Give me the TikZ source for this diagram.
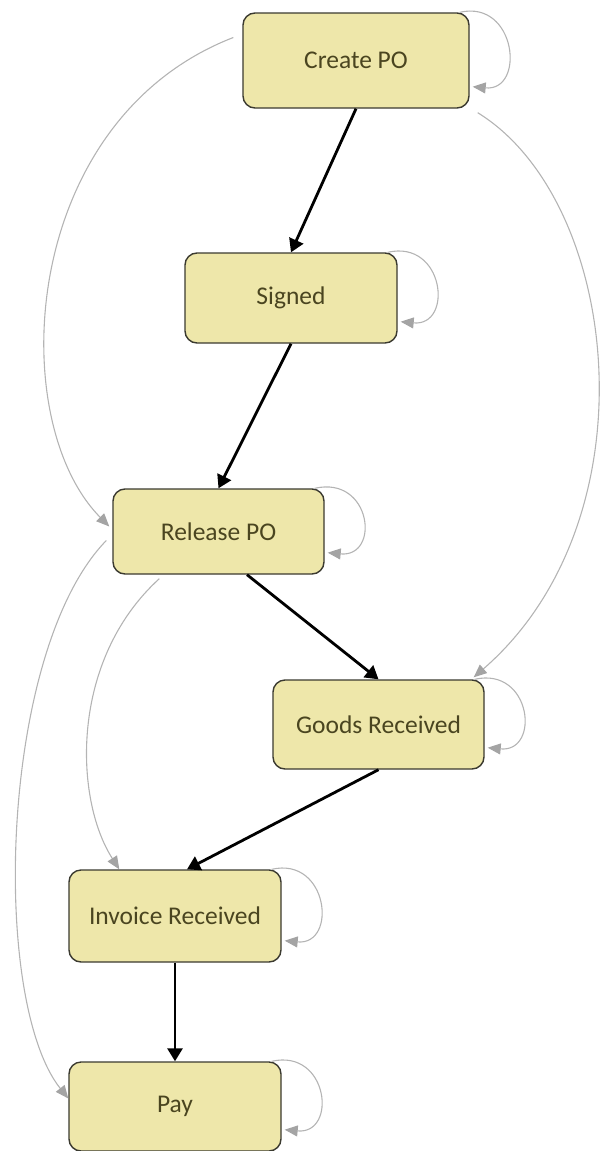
\documentclass[tikz,border=0pt]{standalone}
\usepackage{fontspec}
\setmainfont{Carlito}
\usetikzlibrary{arrows.meta,calc}
\definecolor{boxfill}{HTML}{EEE7AA}
\definecolor{boxline}{HTML}{3B3A30}
\definecolor{boxtext}{HTML}{4A4520}
\definecolor{looseline}{HTML}{B4B4B4}
\definecolor{loosetip}{HTML}{A4A4A4}
\begin{document}
\begin{tikzpicture}[x=1pt,y=-1pt,
  state/.style={draw=boxline, line width=1.4pt, fill=boxfill, rounded corners=12pt,
    text=boxtext, font=\fontsize{25.5}{30}\selectfont, inner sep=0pt},
  flow/.style={line width=2.8pt, -{Triangle[length=13pt,width=15pt]}},
  other/.style={draw=looseline, line width=1.1pt,
    -{Triangle[length=13pt,width=11pt,fill=loosetip,color=loosetip]}},
  selfloop/.style={other}]
\useasboundingbox (0,0) rectangle (600,1151);

% states
\node[state, minimum width=226pt, minimum height=95pt] (create)  at (356,60.5)  {Create PO};
\node[state, minimum width=212pt, minimum height=90pt] (signed)  at (291,298)   {Signed};
\node[state, minimum width=211pt, minimum height=85pt] (release) at (218.5,531.5) {Release PO};
\node[state, minimum width=211pt, minimum height=89pt] (goods)   at (378.5,724.5) {Goods Received};
\node[state, minimum width=212pt, minimum height=92pt] (invoice) at (175,916)   {Invoice Received};
\node[state, minimum width=212pt, minimum height=89pt] (pay)     at (175,1106.5) {Pay};

% main flow
\draw[flow] (create.south) -- (signed.north);
\draw[flow] (signed.south) -- (release.north);
\draw[flow] ($(release.south)+(28.5,0)$) -- (goods.north);
\draw[flow] (goods.south) -- ($(invoice.north)+(12,0)$);
\draw[flow] (invoice.south) -- (pay.north);

% self transitions
\foreach \n in {create,signed,release,goods,invoice,pay}
  \draw[selfloop] ($(\n.north east)+(-10,0)$) .. controls +(57,-13) and +(53,5) .. ($(\n.south east)+(3,-22)$);

% skipping transitions
\draw[other] ($(create.west)+(-9,-23)$) .. controls +(-214,83) and +(-105,-106) .. ($(release.west)+(-3,-5)$);
\draw[other] ($(create.south east)+(8,4)$) .. controls +(143,88) and +(182,-158) .. ($(goods.north east)+(-11,-2)$);
\draw[other] ($(release.south west)+(47,4)$) .. controls +(-90,82) and +(-45,-70) .. ($(invoice.north west)+(51,0)$);
\draw[other] ($(release.west)+(-6,9)$) .. controls +(-107,110) and +(-78,-98) .. ($(pay.west)+(0,-8)$);
\end{tikzpicture}
\end{document}
